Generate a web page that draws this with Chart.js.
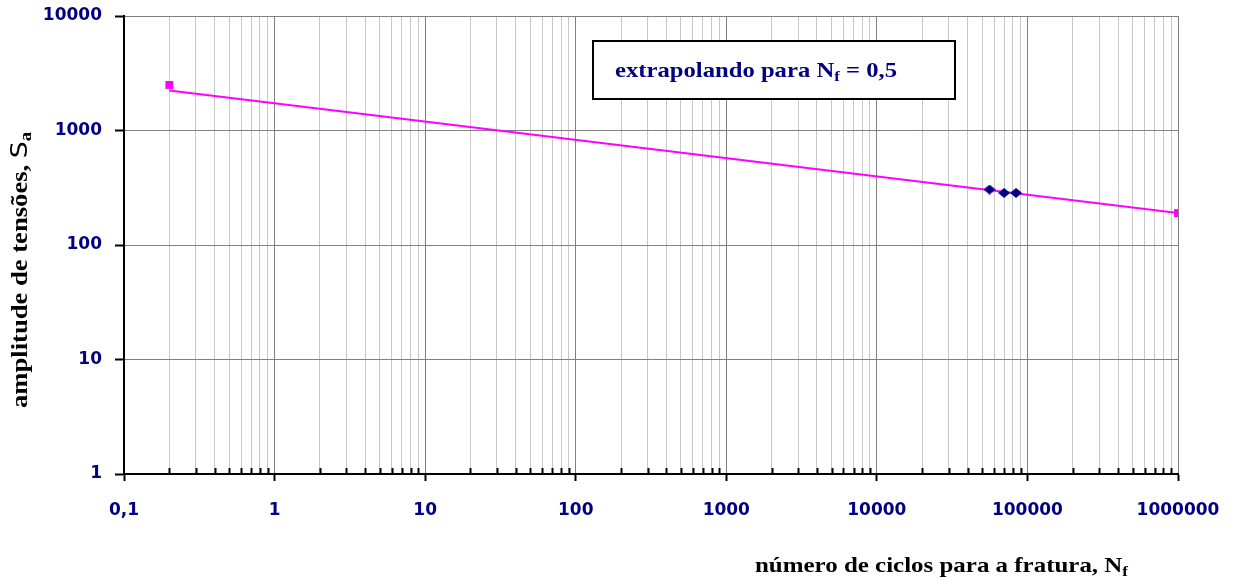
<!DOCTYPE html>
<html>
<head>
<meta charset="utf-8">
<script src="https://cdn.jsdelivr.net/npm/chart.js@4"></script>
<style>
  body { margin: 0; background: #fff; }
  #wrap { width: 1238px; height: 578px; }
</style>
</head>
<body>
<div id="wrap"><canvas id="grafico" width="1238" height="578"></canvas></div>
<script>
  // ensaios (losangos azuis)
  const ciclosEnsaio = [56000, 70000, 84000];
  const tensoesEnsaio = [305, 285, 285];
  // pontos extrapolados (quadrados rosa)
  const ciclosExtrap = [0.2, 1000000];
  const tensoesExtrap = [2500, 190];
  // reta ajustada
  const ciclosReta = [0.2, 1000000];
  const tensoesReta = [2240, 190];

  const xDecadas = [0.1, 1, 10, 100, 1000, 10000, 100000, 1000000];
  const xRotulos = ['0,1', '1', '10', '100', '1000', '10000', '100000', '1000000'];
  const yDecadas = [1, 10, 100, 1000, 10000];
  const yRotulos = ['1', '10', '100', '1000', '10000'];

  const pontos = (xs, ys) => xs.map((x, i) => ({ x: x, y: ys[i] }));

  // losango mais largo que alto
  const losango = document.createElement('canvas');
  losango.width = 12; losango.height = 10;
  const lc = losango.getContext('2d');
  lc.fillStyle = '#000080';
  lc.beginPath();
  lc.moveTo(6, 0); lc.lineTo(12, 5); lc.lineTo(6, 10); lc.lineTo(0, 5);
  lc.closePath();
  lc.fill();

  const fonteTicks = { family: 'DejaVu Sans', size: 17, weight: 'bold' };
  const serif = '"Liberation Serif", "Times New Roman", serif';

  // marcas menores do eixo x, para dentro
  const marcas = {
    id: 'marcas',
    afterDatasetsDraw(chart) {
      const ctx = chart.ctx;
      const xs = chart.scales.x;
      const a = chart.chartArea;
      ctx.save();
      ctx.strokeStyle = '#000';
      ctx.lineWidth = 2;
      xs.ticks.forEach(t => {
        if (t.major) return;
        const px = Math.round(xs.getPixelForValue(t.value)) + 0.5;
        ctx.beginPath();
        ctx.moveTo(px, a.bottom - 6);
        ctx.lineTo(px, a.bottom);
        ctx.stroke();
      });
      ctx.restore();
    }
  };

  // escreve partes (texto, fonte, deslocamento) esticando ate a largura pedida
  function escreve(ctx, partes, x, y, largura) {
    let total = 0;
    partes.forEach(p => { ctx.font = p[1]; total += ctx.measureText(p[0]).width; });
    ctx.save();
    ctx.translate(x, y);
    ctx.scale(largura / total, 1);
    let px = 0;
    partes.forEach(p => {
      ctx.font = p[1];
      ctx.fillText(p[0], px, p[2]);
      px += ctx.measureText(p[0]).width;
    });
    ctx.restore();
  }

  // caixa de texto e titulos dos eixos
  const textos = {
    id: 'textos',
    afterDraw(chart) {
      const ctx = chart.ctx;
      ctx.save();
      ctx.fillStyle = '#fff';
      ctx.fillRect(593, 41, 362, 58);
      ctx.strokeStyle = '#000';
      ctx.lineWidth = 2;
      ctx.strokeRect(593, 41, 362, 58);

      ctx.textBaseline = 'alphabetic';
      ctx.fillStyle = '#000080';
      escreve(ctx, [
        ['extrapolando para N', 'bold 22px ' + serif, 0],
        ['f', 'bold 15px ' + serif, 4],
        [' = 0,5', 'bold 22px ' + serif, 0]
      ], 615, 77, 282);

      // eixo x
      ctx.fillStyle = '#000';
      escreve(ctx, [
        ['número de ciclos para a fratura, N', 'bold 22px ' + serif, 0],
        ['f', 'bold 15px ' + serif, 4]
      ], 755, 572, 373);

      // eixo y
      ctx.translate(27, 408);
      ctx.rotate(-Math.PI / 2);
      escreve(ctx, [
        ['amplitude de tensões, ', 'bold 23px ' + serif, 0],
        ['S', '23px "DejaVu Sans"', 0],
        ['a', 'bold 16px ' + serif, 4]
      ], 0, 0, 276);
      ctx.restore();
    }
  };

  const rotulo = (lista, rot) => (v) => {
    const e = Math.log10(v);
    if (Math.abs(e - Math.round(e)) > 1e-9) return '';
    const i = lista.findIndex(d => Math.abs(Math.log10(d) - e) < 1e-9);
    return i >= 0 ? rot[i] : '';
  };

  const grafico = new Chart(document.getElementById('grafico'), {
    type: 'scatter',
    data: {
      datasets: [{
        label: 'ensaios',
        data: pontos(ciclosEnsaio, tensoesEnsaio),
        pointStyle: losango,
        showLine: false
      }, {
        label: 'extrapolado',
        data: pontos(ciclosExtrap, tensoesExtrap),
        pointStyle: 'rect',
        pointRadius: 5.6,
        backgroundColor: '#FF00FF',
        borderColor: '#FF00FF',
        borderWidth: 0,
        showLine: false
      }, {
        label: 'reta',
        data: pontos(ciclosReta, tensoesReta),
        showLine: true,
        pointRadius: 0,
        borderColor: '#FF00FF',
        borderWidth: 2
      }]
    },
    options: {
      responsive: false,
      animation: false,
      layout: { padding: { left: 0, top: 16, right: 60, bottom: 0 } },
      plugins: { legend: { display: false }, tooltip: { enabled: false } },
      scales: {
        x: {
          type: 'logarithmic',
          min: 0.1,
          max: 1000000,
          afterBuildTicks: (s) => {
            const t = [];
            for (let d = 0; d < xDecadas.length; d++) {
              t.push({ value: xDecadas[d], major: true });
              if (d < xDecadas.length - 1) {
                for (let k = 2; k <= 9; k++) t.push({ value: xDecadas[d] * k, major: false });
              }
            }
            s.ticks = t;
          },
          afterFit: (s) => { s.height = 104; s.paddingLeft = 0; s.paddingRight = 0; },
          border: { color: '#000', width: 2 },
          grid: {
            color: (c) => (c.tick && c.tick.major) ? '#808080' : '#c8c8c8',
            lineWidth: 1,
            tickLength: 7,
            tickWidth: 2,
            tickColor: (c) => (c.tick && c.tick.major) ? '#000' : 'rgba(0,0,0,0)'
          },
          ticks: {
            autoSkip: false,
            maxRotation: 0,
            padding: 19,
            color: '#000080',
            font: fonteTicks,
            callback: rotulo(xDecadas, xRotulos)
          }
        },
        y: {
          type: 'logarithmic',
          min: 1,
          max: 10000,
          afterBuildTicks: (s) => {
            s.ticks = yDecadas.map(v => ({ value: v, major: true }));
          },
          afterFit: (s) => { s.width = 124; s.paddingTop = 0; s.paddingBottom = 0; },
          border: { color: '#000', width: 2 },
          grid: {
            color: '#808080',
            lineWidth: 1,
            tickLength: 9,
            tickWidth: 2,
            tickColor: '#000'
          },
          ticks: {
            padding: 13,
            color: '#000080',
            font: fonteTicks,
            callback: rotulo(yDecadas, yRotulos)
          }
        }
      }
    },
    plugins: [marcas, textos]
  });
</script>
</body>
</html>
